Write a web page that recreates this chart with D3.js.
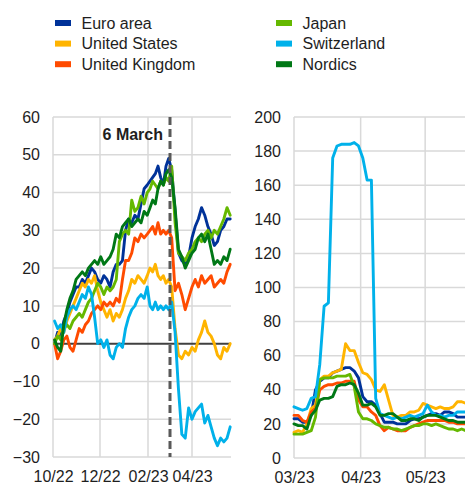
<!DOCTYPE html>
<html>
<head>
<meta charset="utf-8">
<script src="https://cdn.jsdelivr.net/npm/d3@7"></script>
<style>
  body { margin: 0; background: #fff; }
  svg { display: block; font-family: "Liberation Sans", Arial, sans-serif; }
</style>
</head>
<body>
<svg id="chart" width="465" height="485"></svg>
<script>
// Series, in legend order
const seriesNames = ["Euro area", "United States", "United Kingdom", "Japan", "Switzerland", "Nordics"];
const seriesColors = ["#003299", "#ffb400", "#ff4b00", "#65b800", "#00b1ea", "#007816"];

// Left panel: cumulative change since October 2022 (sampled every 4 days)
const leftDates = d3.timeDay.range(new Date(2022, 9, 3), new Date(2023, 4, 20), 4);
const leftEuro = [0,3,2,6,8,11,13,15,15,17, 16,18,20,19,17,16,18,17,15,19, 21,21,22,30,33,32,34,33,37,41, 42,43,44,45,47,44,42,47,49,46, 35,24,22,21,23,28,31,33,36,34, 31,29,26,27,30,31,33,33];
const leftUS = [1,2,4,3,6,8,10,12,14,16, 15,17,16,18,14,11,9,7,9,6, 8,7,9,12,14,17,16,18,17,16, 18,20,19,21,18,17,18,16,17,15, 4,-3,-4,-2,-3,-1,-2,1,3,6, 3,2,0,-3,-4,-1,-2,0];
const leftUK = [0,-4,-2,1,2,-1,-2,1,4,3, 5,6,8,9,10,9,11,10,11,10, 12,11,17,22,22,24,28,27,29,28, 29,30,31,29,32,29,30,29,30,28, 14,16,13,9,12,15,17,15,18,16, 17,18,15,16,17,16,19,21];
const leftJapan = [0,2,1,4,5,4,6,7,8,7, 9,11,12,14,16,15,13,15,14,15, 17,27,29,30,29,38,35,36,39,37, 40,41,43,42,41,43,42,44,43,47, 32,24,23,22,24,25,27,28,27,29, 30,28,30,29,31,33,36,34];
const leftSwiss = [6,4,5,3,7,9,10,9,11,13, 12,15,13,7,0,1,-1,1,-3,-4, -1,0,-1,4,7,9,10,12,13,12, 15,10,9,11,9,10,9,10,9,11, 3,-12,-24,-25,-17,-20,-18,-17,-16,-21, -19,-22,-25,-27,-25,-26,-25,-22];
const leftNordics = [1,-1,-2,5,9,12,14,17,18,19, 18,20,21,22,21,23,21,22,23,25, 29,28,31,32,33,31,32,33,32,35, 34,36,38,37,41,43,42,45,46,44, 36,25,23,20,22,24,25,28,29,27, 29,25,21,22,21,23,22,25];

// Right panel: March to May 2023 (sampled every 2 days)
const rightDates = d3.timeDay.range(new Date(2023, 2, 1), new Date(2023, 4, 21), 2);
const rightEuro = [23,23,21,21,25,40,45,47,47,50, 51,52,53,53,51,47,36,33,33,31, 26,21,21,21,20,20,20,22,23,23, 24,25,26,26,25,27,27,26,24,24, 24];
const rightUS = [15,16,15,20,29,31,46,48,48,50, 51,52,67,63,63,56,50,49,46,40, 39,43,34,25,24,25,25,27,27,28, 32,31,30,29,30,29,29,30,33,33, 32];
const rightUK = [25,25,22,21,27,29,40,42,43,43, 44,44,45,45,45,34,30,30,27,25, 19,16,18,17,16,16,16,18,19,20, 21,22,22,22,22,22,21,21,20,20, 20];
const rightJapan = [14,14,14,15,16,24,46,47,47,47, 48,48,48,49,42,27,23,23,22,20, 19,18,18,17,17,16,17,18,19,19, 20,20,19,20,19,18,17,17,16,17, 16];
const rightSwiss = [30,29,28,29,35,36,55,89,91,176, 183,184,184,184,185,183,176,163,163,35, 26,25,24,23,24,23,24,25,24,25, 26,31,27,25,25,24,25,25,27,27, 27];
const rightNordics = [20,19,19,17,25,28,34,35,35,36, 42,43,43,44,43,38,31,31,32,30, 25,25,26,26,24,22,22,23,23,22, 24,25,25,25,24,23,22,22,21,21, 21];

// Axis ticks
const leftYTicks = [-30, -20, -10, 0, 10, 20, 30, 40, 50, 60];
const leftXTicks = [new Date(2022, 9, 1), new Date(2022, 11, 1), new Date(2023, 1, 1), new Date(2023, 3, 1)];
const rightYTicks = [0, 20, 40, 60, 80, 100, 120, 140, 160, 180, 200];
const rightXTicks = [new Date(2023, 2, 1), new Date(2023, 3, 1), new Date(2023, 4, 1)];
const eventDate = new Date(2023, 2, 6);
const eventLabel = "6 March";

const leftSeries = [leftEuro, leftUS, leftUK, leftJapan, leftSwiss, leftNordics];
const rightSeries = [rightEuro, rightUS, rightUK, rightJapan, rightSwiss, rightNordics];

const svg = d3.select("#chart");
const gridColor = "#d9d9d9";
const textColor = "#1e1e1e";
const fmt = d3.timeFormat("%m/%y");

// ---- Legend ----
const legend = svg.append("g");
seriesNames.forEach((name, i) => {
  const col = Math.floor(i / 3), row = i % 3;
  const x = col === 0 ? 55 : 276;
  const y = 28.5 + row * 20.6;
  legend.append("rect").attr("x", x).attr("y", y - 8.5).attr("width", 16).attr("height", 6)
    .attr("fill", seriesColors[i]);
  legend.append("text").attr("x", x + 26.5).attr("y", y).attr("font-size", 16)
    .attr("fill", textColor).text(name);
});

// ---- Panel helper ----
function panel(opts) {
  const { x, y, xTicks, yTicks, zeroLine } = opts;
  const g = svg.append("g");
  const [x0, x1] = [x.range()[0], x.range()[x.range().length - 1]];
  const [yb, yt] = y.range();

  // horizontal grid
  g.selectAll(null).data(yTicks.filter(v => v !== y.domain()[0] && !(zeroLine && v === 0)))
    .join("line")
    .attr("x1", x0).attr("x2", x1).attr("y1", d => y(d)).attr("y2", d => y(d))
    .attr("stroke", gridColor).attr("stroke-width", 1.5);
  // vertical grid
  g.selectAll(null).data(xTicks.slice(1)).join("line")
    .attr("x1", d => x(d)).attr("x2", d => x(d)).attr("y1", yt).attr("y2", yb)
    .attr("stroke", gridColor).attr("stroke-width", 1.5);
  // axis frame (left and bottom)
  g.append("line").attr("x1", x0).attr("x2", x0).attr("y1", yt).attr("y2", yb)
    .attr("stroke", gridColor).attr("stroke-width", 1.5);
  g.append("line").attr("x1", x0).attr("x2", x1).attr("y1", yb).attr("y2", yb)
    .attr("stroke", gridColor).attr("stroke-width", 1.5);

  // y tick labels
  const yAxis = d3.axisLeft(y).tickValues(yTicks).tickSize(0).tickPadding(13);
  const ya = g.append("g").attr("transform", `translate(${x0},0)`).call(yAxis);
  ya.select(".domain").remove();
  ya.selectAll("text").attr("font-size", 16).attr("fill", textColor)
    .attr("font-family", '"Liberation Sans", Arial, sans-serif');

  // x tick labels
  const xAxis = d3.axisBottom(x).tickValues(xTicks).tickFormat(fmt).tickSize(0).tickPadding(13.5);
  const xa = g.append("g").attr("transform", `translate(0,${yb})`).call(xAxis);
  xa.select(".domain").remove();
  xa.selectAll("text").attr("font-size", 16).attr("fill", textColor)
    .attr("font-family", '"Liberation Sans", Arial, sans-serif');

  if (zeroLine) {
    g.append("line").attr("x1", x0).attr("x2", x1).attr("y1", y(0)).attr("y2", y(0))
      .attr("stroke", "#404040").attr("stroke-width", 2);
  }
  return g;
}

function drawLines(g, x, y, dates, series) {
  const line = d3.line().x((d, i) => x(dates[i])).y(d => y(d));
  series.forEach((vals, i) => {
    g.append("path").datum(vals).attr("d", line)
      .attr("fill", "none").attr("stroke", seriesColors[i]).attr("stroke-width", 2.9)
      .attr("stroke-linejoin", "round").attr("stroke-linecap", "round");
  });
}

// ---- Left panel ----
const xLeft = d3.scaleTime()
  .domain([new Date(2022, 9, 1), new Date(2022, 11, 1), new Date(2023, 1, 1), eventDate, new Date(2023, 3, 1), new Date(2023, 4, 20)])
  .range([53, 100, 148, 170, 192, 231]);
const yLeft = d3.scaleLinear().domain([-30, 60]).range([457, 117]);
const gl = panel({ x: xLeft, y: yLeft, xTicks: leftXTicks, yTicks: leftYTicks, zeroLine: true });
drawLines(gl, xLeft, yLeft, leftDates, leftSeries);

// event marker
gl.append("line").attr("x1", xLeft(eventDate)).attr("x2", xLeft(eventDate))
  .attr("y1", yLeft(60)).attr("y2", yLeft(-30))
  .attr("stroke", "#595959").attr("stroke-width", 3).attr("stroke-dasharray", "8,4");
gl.append("text").attr("x", xLeft(eventDate) - 7).attr("y", 140).attr("text-anchor", "end")
  .attr("font-size", 16).attr("font-weight", "bold").attr("fill", textColor).text(eventLabel);

// ---- Right panel ----
const xRight = d3.scaleTime().domain([new Date(2023, 2, 1), new Date(2023, 4, 20)]).range([294, 466]);
const yRight = d3.scaleLinear().domain([0, 200]).range([458, 117]);
const gr = panel({ x: xRight, y: yRight, xTicks: rightXTicks, yTicks: rightYTicks, zeroLine: false });
drawLines(gr, xRight, yRight, rightDates, rightSeries);
</script>
</body>
</html>
